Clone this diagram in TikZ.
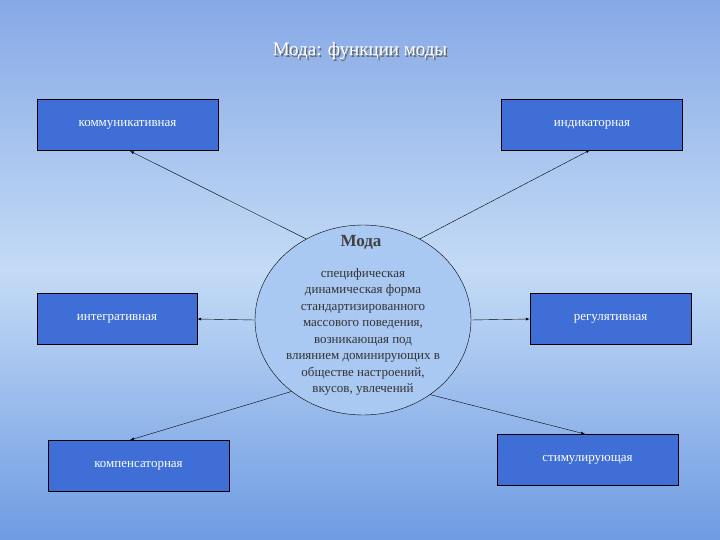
\documentclass[tikz,border=0pt]{standalone}
\usepackage{fontspec}
\setmainfont{Liberation Serif}
\usetikzlibrary{shapes.geometric}
\definecolor{boxblue}{HTML}{3F6FD6}
\definecolor{ellblue}{HTML}{A9C8F2}
\definecolor{bgtop}{HTML}{86A9E6}
\definecolor{bgmid}{HTML}{C4DBF6}
\definecolor{bgbot}{HTML}{6E9BE2}
\tikzset{
  fbox/.style={draw=black, fill=boxblue, minimum width=181pt, minimum height=51pt, text=white, font=\fontsize{13}{15}\selectfont, inner sep=0pt},
  conn/.style={draw=black, thin, -latex},
}
\begin{document}
\begin{tikzpicture}[x=1pt,y=-1pt]
\shade[top color=bgtop, bottom color=bgbot, middle color=bgmid] (0,0) rectangle (720,540);
\useasboundingbox (0,0) rectangle (720,540);
\node[text=black!60, font=\fontsize{19}{22}\selectfont] at (361.5,52.5) {Мода: функции моды};
\node (t) [text=white, font=\fontsize{19}{22}\selectfont] at (360,51) {Мода: функции моды};
\node (k) [fbox] at (127.5,124.5) {коммуникативная};
\node (i) [fbox] at (592,124.5) {индикаторная};
\node (g) [fbox, minimum width=160pt] at (117,319) {интегративная};
\node (r) [fbox, minimum width=161pt] at (610.5,319) {регулятивная};
\node (c) [fbox] at (138.5,465.5) {компенсаторная};
\node (s) [fbox] at (587.5,459.5) {стимулирующая};
\node (e) [ellipse, draw=black, fill=ellblue, minimum width=216pt, minimum height=190pt] at (363,320) {};
\node at (361,242) {\fontsize{17}{19}\selectfont\bfseries\color{black!75}Мода};
\node[align=center, font=\fontsize{13}{16.5}\selectfont, text=black!80] at (363,332) {специфическая\\динамическая форма\\стандартизированного\\массового поведения,\\возникающая под\\влиянием доминирующих в\\обществе настроений,\\вкусов, увлечений};
\draw[conn] (e.125) -- (130,151);
\draw[conn] (e.55) -- (590,150);
\draw[conn] (e.180) -- (g.east);
\draw[conn] (e.0) -- (r.west);
\draw[conn] (e.225) -- (130,440);
\draw[conn] (e.312) -- (585,434);
\end{tikzpicture}
\end{document}
